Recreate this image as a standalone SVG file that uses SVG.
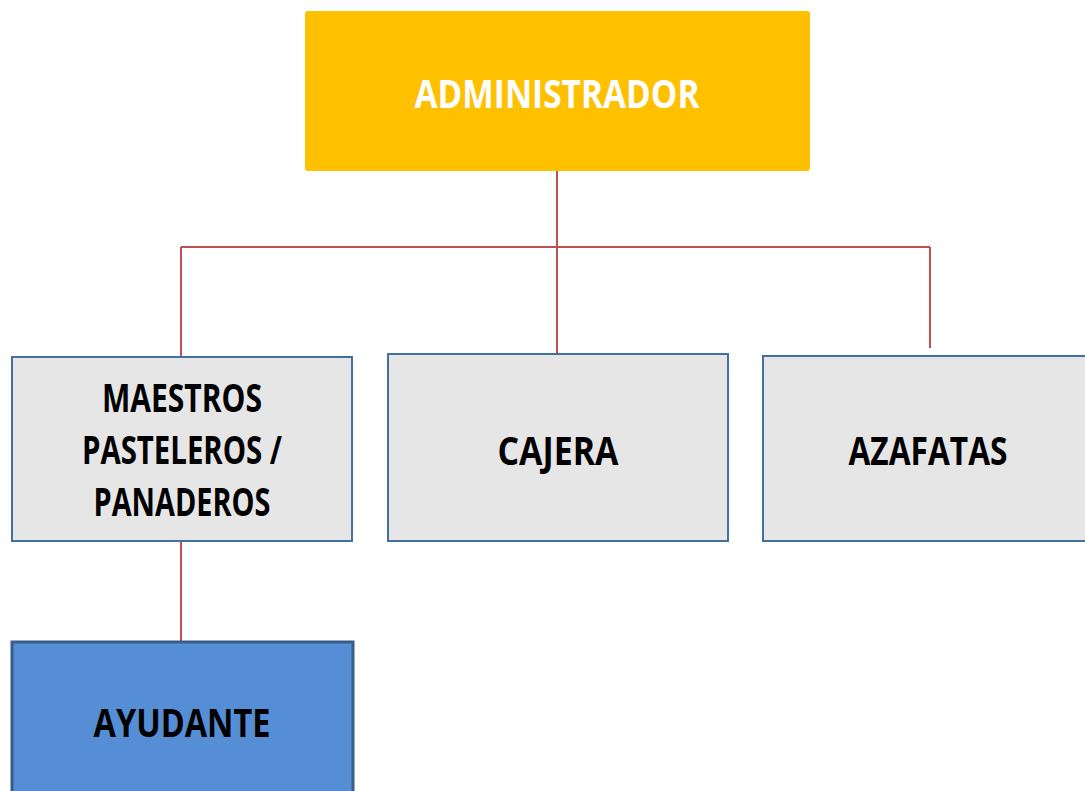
<svg xmlns="http://www.w3.org/2000/svg" width="1085" height="791" viewBox="0 0 1085 791">
<style>
.lbl{font-family:"Open Sans","Liberation Sans",sans-serif;font-weight:bold;font-size:40px;text-anchor:middle;fill:#000}
.gray{fill:#E6E6E6;stroke:#41719C;stroke-width:2}
.conn{fill:none;stroke:#C0504D;stroke-width:2}
</style>
<rect width="1085" height="791" fill="#fff"/>
<g id="connectors">
<path class="conn" d="M557,171 V247 M181,247 H930 M181,247 V357 M557,247 V354 M930,247 V348 M181,541 V642"/>
</g>
<g id="administrador">
<rect x="305" y="11" width="505" height="160" rx="3" fill="#FFC000"/>
<text class="lbl" x="557" y="108" style="fill:#fff" textLength="285" lengthAdjust="spacingAndGlyphs">ADMINISTRADOR</text>
</g>
<g id="maestros">
<rect class="gray" x="12" y="357" width="340" height="184"/>
<text class="lbl" x="182" y="412" textLength="160" lengthAdjust="spacingAndGlyphs">MAESTROS</text>
<text class="lbl" x="182" y="464" textLength="200" lengthAdjust="spacingAndGlyphs">PASTELEROS /</text>
<text class="lbl" x="182" y="516" textLength="177" lengthAdjust="spacingAndGlyphs">PANADEROS</text>
</g>
<g id="cajera">
<rect class="gray" x="388" y="354" width="340" height="187"/>
<text class="lbl" x="558" y="465" textLength="121" lengthAdjust="spacingAndGlyphs">CAJERA</text>
</g>
<g id="azafatas">
<rect class="gray" x="763" y="356" width="330" height="185"/>
<text class="lbl" x="928" y="465" textLength="159" lengthAdjust="spacingAndGlyphs">AZAFATAS</text>
</g>
<g id="ayudante">
<rect x="12" y="642" width="341" height="160" fill="#558ED5" stroke="#385D8A" stroke-width="3"/>
<text class="lbl" x="182" y="737" textLength="177" lengthAdjust="spacingAndGlyphs">AYUDANTE</text>
</g>
</svg>
